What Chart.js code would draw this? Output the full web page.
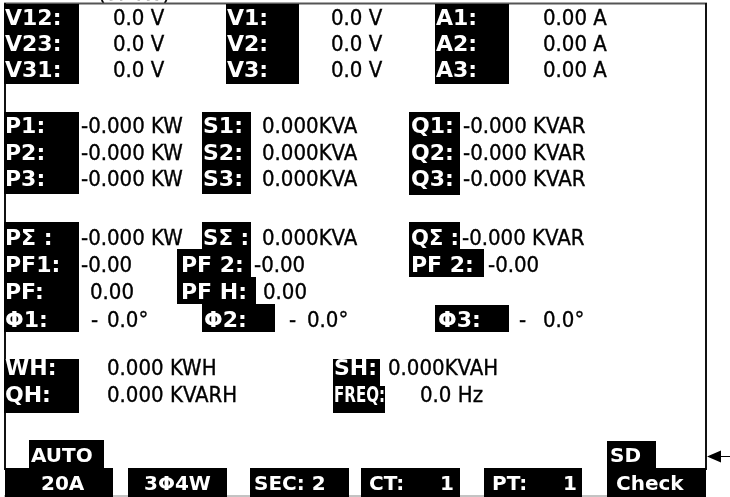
<!DOCTYPE html>
<html><head><meta charset="utf-8">
<script src="https://cdn.jsdelivr.net/npm/chart.js@4.4.0/dist/chart.umd.min.js"></script>
<style>html,body{margin:0;padding:0;background:#fff;overflow:hidden}#wrap{width:730px;height:497px}</style>
</head><body><div id="wrap"><canvas id="c" width="730" height="497"></canvas></div>
<script>
// ---- display content (labels and readings) ----
const headerText = '(3P4W)';
const lineVoltLabels = ['V12:', 'V23:', 'V31:'];
const lineVoltValues = ['0.0 V', '0.0 V', '0.0 V'];
const phaseVoltLabels = ['V1:', 'V2:', 'V3:'];
const phaseVoltValues = ['0.0 V', '0.0 V', '0.0 V'];
const currentLabels = ['A1:', 'A2:', 'A3:'];
const currentValues = ['0.00 A', '0.00 A', '0.00 A'];
const activeLabels = ['P1:', 'P2:', 'P3:'];
const activeValues = ['-0.000 KW', '-0.000 KW', '-0.000 KW'];
const apparentLabels = ['S1:', 'S2:', 'S3:'];
const apparentValues = ['0.000KVA', '0.000KVA', '0.000KVA'];
const reactiveLabels = ['Q1:', 'Q2:', 'Q3:'];
const reactiveValues = ['-0.000 KVAR', '-0.000 KVAR', '-0.000 KVAR'];
const totalLabels = ['PΣ :', 'SΣ :', 'QΣ :'];
const totalValues = ['-0.000 KW', '0.000KVA', '-0.000 KVAR'];
const pfLabels = ['PF1:', 'PF 2:', 'PF 2:', 'PF:', 'PF H:'];
const pfValues = ['-0.00', '-0.00', '-0.00', '0.00', '0.00'];
const phaseAngleLabels = ['Φ1:', 'Φ2:', 'Φ3:'];
const phaseAngleSigns = ['-', '-', '-'];
const phaseAngleValues = ['0.0°', '0.0°', '0.0°'];
const energyLabels = ['WH:', 'QH:', 'SH:', 'FREQ:'];
const energyValues = ['0.000 KWH', '0.000 KVARH', '0.000KVAH', '0.0 Hz'];
const statusTop = ['AUTO', 'SD'];
const statusBottom = ['20A', '3Φ4W', 'SEC: 2', 'CT:', 'PT:', 'Check'];
const statusNumbers = ['1', '1'];

const LABEL_FONT = 'bold 22px "DejaVu Sans", sans-serif';
const NARROW_LABEL_FONT = 'bold 22px "DejaVu Sans Condensed", "DejaVu Sans", sans-serif';
const VALUE_FONT = '22px "DejaVu Sans Condensed", "DejaVu Sans", sans-serif';
const STATUS_FONT = 'bold 20px "DejaVu Sans", sans-serif';

const meterPlugin = {
  id: 'meterScreen',
  afterDraw(chart) {
    const ctx = chart.ctx, sx = chart.scales.x, sy = chart.scales.y;
    const X = v => sx.getPixelForValue(v), Y = v => sy.getPixelForValue(v);
    ctx.save();
    const box = (x1, y1, x2, y2) => { ctx.fillStyle = '#000'; ctx.fillRect(X(x1), Y(y1), X(x2) - X(x1), Y(y2) - Y(y1)); };
    // kind: 'v' value, 'l' label, 'n' narrow label, 's' status
    const txt = (s, x, y, kind, opts) => {
      opts = opts || {};
      ctx.font = kind === 'l' ? LABEL_FONT : kind === 'n' ? NARROW_LABEL_FONT : kind === 's' ? STATUS_FONT : VALUE_FONT;
      const col = kind === 'v' ? '#000' : '#fff';
      ctx.fillStyle = col;
      ctx.textBaseline = 'alphabetic';
      ctx.textAlign = 'left';
      const w = ctx.measureText(s).width;
      let k = 1;
      if (opts.fit && w > opts.fit) k = opts.fit / w;
      let px = X(x);
      if (opts.right) px -= w * k;
      ctx.save();
      ctx.translate(px, Y(y));
      ctx.scale(k, 1);
      ctx.fillText(s, 0, 0);
      if (kind === 'v') { ctx.strokeStyle = col; ctx.lineWidth = 0.35; ctx.strokeText(s, 0, 0); }
      ctx.restore();
    };
    // header (clipped above frame)
    ctx.save(); ctx.beginPath(); ctx.rect(0, 0, 730, Y(3)); ctx.clip();
    txt(headerText, 98, 0, 'v'); ctx.restore();

    // frame
    ctx.strokeStyle = '#555'; ctx.lineWidth = 2;
    ctx.beginPath(); ctx.moveTo(X(4), Y(3.5)); ctx.lineTo(X(707), Y(3.5)); ctx.stroke();
    ctx.strokeStyle = '#111';
    ctx.beginPath(); ctx.moveTo(X(5), Y(3)); ctx.lineTo(X(5), Y(470)); ctx.stroke();
    ctx.beginPath(); ctx.moveTo(X(706), Y(3)); ctx.lineTo(X(706), Y(470)); ctx.stroke();
    ctx.strokeStyle = '#888'; ctx.lineWidth = 1;
    ctx.beginPath(); ctx.moveTo(X(4), Y(496)); ctx.lineTo(X(706), Y(496)); ctx.stroke();

    // section 1: voltages / currents
    const r1 = [25, 51, 77];
    box(4, 4, 79, 84); box(226, 4, 299, 84); box(435, 4, 509, 84);
    r1.forEach((b, i) => {
      txt(lineVoltLabels[i], 5, b, 'l'); txt(lineVoltValues[i], 113, b, 'v');
      txt(phaseVoltLabels[i], 227, b, 'l'); txt(phaseVoltValues[i], 331, b, 'v');
      txt(currentLabels[i], 436, b, 'l'); txt(currentValues[i], 543, b, 'v');
    });

    // section 2: per-phase power
    const r2 = [133, 160, 186];
    box(4, 112, 79, 194); box(202, 112, 251, 194); box(409, 112, 460, 195);
    r2.forEach((b, i) => {
      txt(activeLabels[i], 5, b, 'l'); txt(activeValues[i], 81, b, 'v');
      txt(apparentLabels[i], 203, b, 'l'); txt(apparentValues[i], 262, b, 'v');
      txt(reactiveLabels[i], 411, b, 'l'); txt(reactiveValues[i], 463, b, 'v');
    });

    // section 3: totals, PF, angles
    const r3 = [245, 272, 299, 327];
    box(4, 222, 79, 332);
    box(202, 222, 251, 249); box(177, 249, 251, 277); box(177, 277, 256, 304); box(202, 304, 275, 332);
    box(409, 222, 460, 249); box(409, 249, 484, 277); box(435, 305, 509, 332);
    txt(totalLabels[0], 5, r3[0], 'l'); txt(totalValues[0], 81, r3[0], 'v');
    txt(totalLabels[1], 203, r3[0], 'l', { fit: 46 }); txt(totalValues[1], 262, r3[0], 'v');
    txt(totalLabels[2], 411, r3[0], 'l', { fit: 48 }); txt(totalValues[2], 462, r3[0], 'v');
    txt(pfLabels[0], 5, r3[1], 'l'); txt(pfValues[0], 81, r3[1], 'v');
    txt(pfLabels[1], 181, r3[1], 'l'); txt(pfValues[1], 254, r3[1], 'v');
    txt(pfLabels[2], 411, r3[1], 'l'); txt(pfValues[2], 488, r3[1], 'v');
    txt(pfLabels[3], 5, r3[2], 'l'); txt(pfValues[3], 90, r3[2], 'v');
    txt(pfLabels[4], 181, r3[2], 'l'); txt(pfValues[4], 263, r3[2], 'v');
    const angX = [[5, 91, 107], [204, 289, 307], [438, 519, 543]];
    angX.forEach((a, i) => {
      txt(phaseAngleLabels[i], a[0], r3[3], 'l');
      txt(phaseAngleSigns[i], a[1], r3[3], 'v');
      txt(phaseAngleValues[i], a[2], r3[3], 'v');
    });

    // section 4: energy, frequency
    const r4 = [375, 402];
    box(4, 359, 79, 413); box(333, 359, 380, 386); box(333, 386, 385, 413);
    txt(energyLabels[0], 5, r4[0], 'l'); txt(energyValues[0], 107, r4[0], 'v');
    txt(energyLabels[1], 5, r4[1], 'l'); txt(energyValues[1], 107, r4[1], 'v');
    txt(energyLabels[2], 334, r4[0], 'l', { fit: 44 }); txt(energyValues[2], 388, r4[0], 'v');
    txt(energyLabels[3], 334, r4[1], 'n', { fit: 51 }); txt(energyValues[3], 420, r4[1], 'v');

    // section 5: status bar
    box(29, 440, 104, 468); box(607, 441, 656, 468);
    box(5, 468, 113, 497); box(128, 468, 227, 497); box(250, 468, 349, 497);
    box(361, 468, 460, 497); box(484, 468, 582, 497); box(607, 468, 706, 497);
    txt(statusTop[0], 31, 462, 's'); txt(statusTop[1], 610, 462, 's');
    const sb = 490;
    txt(statusBottom[0], 41, sb, 's'); txt(statusBottom[1], 144, sb, 's');
    txt(statusBottom[2], 254, sb, 's'); txt(statusBottom[3], 369, sb, 's');
    txt(statusBottom[4], 492, sb, 's'); txt(statusBottom[5], 616, sb, 's');
    txt(statusNumbers[0], 454, sb, 's', { right: true }); txt(statusNumbers[1], 577, sb, 's', { right: true });

    // pointer arrow at right
    ctx.strokeStyle = '#000'; ctx.lineWidth = 1;
    ctx.beginPath(); ctx.moveTo(X(715), Y(456.5)); ctx.lineTo(X(730), Y(456.5)); ctx.stroke();
    ctx.fillStyle = '#000';
    ctx.beginPath(); ctx.moveTo(X(707), Y(456.5)); ctx.lineTo(X(721), Y(450.5)); ctx.lineTo(X(721), Y(462.5)); ctx.closePath(); ctx.fill();
    ctx.restore();
  }
};

new Chart(document.getElementById('c'), {
  type: 'scatter',
  data: { datasets: [] },
  options: {
    responsive: false, animation: false, devicePixelRatio: 1,
    layout: { padding: 0 },
    scales: {
      x: { type: 'linear', min: 0, max: 730, display: false },
      y: { type: 'linear', min: 0, max: 497, reverse: true, display: false }
    },
    plugins: { legend: { display: false }, tooltip: { enabled: false } }
  },
  plugins: [meterPlugin]
});
</script>
</body></html>
